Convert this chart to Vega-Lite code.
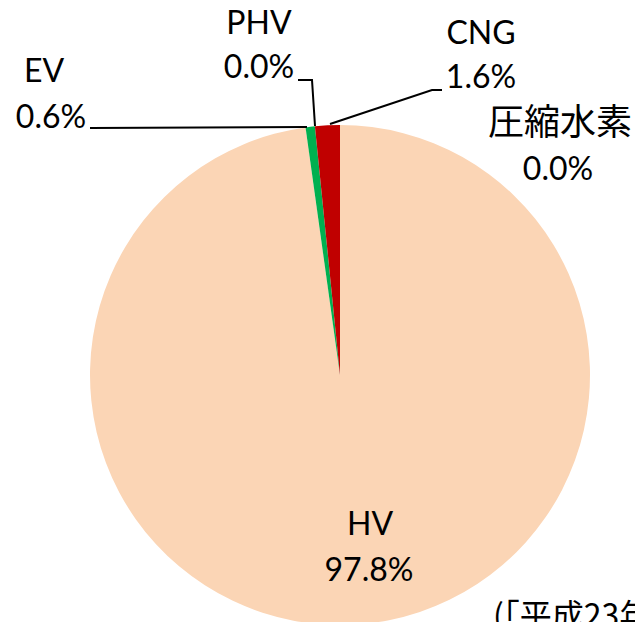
{
  "$schema": "https://vega.github.io/schema/vega-lite/v6.json",
  "width": 635,
  "height": 622,
  "padding": 0,
  "autosize": "none",
  "background": "white",
  "config": {"view": {"stroke": null}},
  "datasets": {
    "shares": [
      {"cat": "HV", "pct": 97.8, "ord": 1},
      {"cat": "EV", "pct": 0.6, "ord": 2},
      {"cat": "PHV", "pct": 0.0, "ord": 3},
      {"cat": "CNG", "pct": 1.6, "ord": 4},
      {"cat": "圧縮水素", "pct": 0.0, "ord": 5}
    ],
    "labels": [
      {"text": "PHV", "kind": "latin", "x": -0.324, "y": 1.405},
      {"text": "0.0%", "kind": "latin", "x": -0.324, "y": 1.228},
      {"text": "EV", "kind": "latin", "x": -1.184, "y": 1.212},
      {"text": "0.6%", "kind": "latin", "x": -1.156, "y": 1.03},
      {"text": "CNG", "kind": "latin", "x": 0.564, "y": 1.364},
      {"text": "1.6%", "kind": "latin", "x": 0.564, "y": 1.188},
      {"text": "圧縮水素", "kind": "cjk", "x": 0.88, "y": 1.004},
      {"text": "0.0%", "kind": "latin", "x": 0.872, "y": 0.82},
      {"text": "HV", "kind": "latin", "x": 0.12, "y": -0.6},
      {"text": "97.8%", "kind": "latin", "x": 0.116, "y": -0.784}
    ],
    "leaders": [
      {"g": "EV", "i": 1, "x": -1.0, "y": 0.988},
      {"g": "EV", "i": 2, "x": -0.132, "y": 0.992},
      {"g": "PHV", "i": 1, "x": -0.168, "y": 1.18},
      {"g": "PHV", "i": 2, "x": -0.112, "y": 1.18},
      {"g": "PHV", "i": 3, "x": -0.1, "y": 0.996},
      {"g": "CNG", "i": 1, "x": 0.408, "y": 1.14},
      {"g": "CNG", "i": 2, "x": 0.368, "y": 1.14},
      {"g": "CNG", "i": 3, "x": -0.04, "y": 1.004}
    ],
    "note": [
      {"text": "(「平成23年度自動車燃料消費量調査」より作成)", "x": 0.612, "y": -0.966}
    ]
  },
  "resolve": {"scale": {"x": "shared", "y": "shared"}},
  "layer": [
    {
      "data": {"name": "shares"},
      "mark": {"type": "arc", "outerRadius": 250, "stroke": null},
      "encoding": {
        "x": {"datum": 0, "type": "quantitative", "scale": {"domain": [-1.36, 1.18], "nice": false, "zero": false}, "axis": null},
        "y": {"datum": 0, "type": "quantitative", "scale": {"domain": [-0.988, 1.5], "nice": false, "zero": false}, "axis": null},
        "theta": {"field": "pct", "type": "quantitative", "stack": true},
        "order": {"field": "ord", "type": "quantitative"},
        "color": {
          "field": "cat", "type": "nominal", "legend": null,
          "scale": {"domain": ["HV", "EV", "PHV", "CNG", "圧縮水素"], "range": ["#FBD5B5", "#00B050", "#7F7F7F", "#C00000", "#4472C4"]}
        }
      }
    },
    {
      "data": {"name": "leaders"},
      "mark": {"type": "line", "color": "black", "strokeWidth": 2, "interpolate": "linear"},
      "encoding": {
        "x": {"field": "x", "type": "quantitative"},
        "y": {"field": "y", "type": "quantitative"},
        "detail": {"field": "g"},
        "order": {"field": "i", "type": "quantitative"}
      }
    },
    {
      "data": {"name": "labels"},
      "transform": [{"filter": "datum.kind === 'latin'"}],
      "mark": {"type": "text", "font": "Lato", "fontSize": 32, "color": "black", "align": "center", "baseline": "middle"},
      "encoding": {
        "x": {"field": "x", "type": "quantitative"},
        "y": {"field": "y", "type": "quantitative"},
        "text": {"field": "text"}
      }
    },
    {
      "data": {"name": "labels"},
      "transform": [{"filter": "datum.kind === 'cjk'"}],
      "mark": {"type": "text", "font": "Noto Sans CJK JP", "fontSize": 36, "color": "black", "align": "center", "baseline": "middle"},
      "encoding": {
        "x": {"field": "x", "type": "quantitative"},
        "y": {"field": "y", "type": "quantitative"},
        "text": {"field": "text"}
      }
    },
    {
      "data": {"name": "note"},
      "mark": {"type": "text", "font": "Noto Sans CJK JP", "fontSize": 32, "color": "black", "align": "left", "baseline": "middle"},
      "encoding": {
        "x": {"field": "x", "type": "quantitative"},
        "y": {"field": "y", "type": "quantitative"},
        "text": {"field": "text"}
      }
    }
  ]
}
